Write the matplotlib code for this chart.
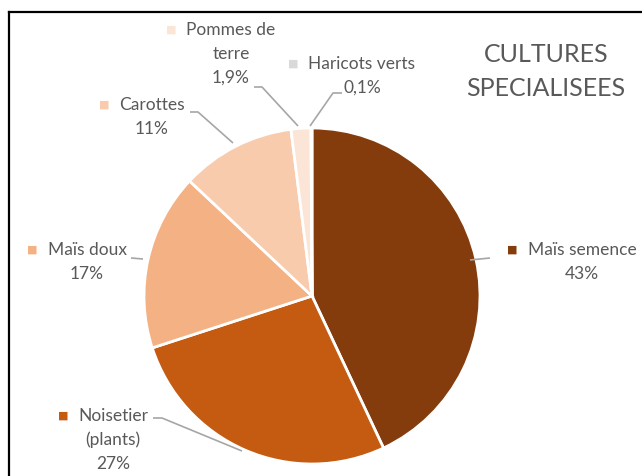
import matplotlib
matplotlib.use("Agg")
import matplotlib.pyplot as plt

# slices, clockwise from 12 o'clock
labels = ["Maïs semence", "Noisetier\n(plants)", "Maïs doux", "Carottes", "Pommes de\nterre", "Haricots verts"]
values = [43, 27, 17, 11, 1.9, 0.1]
pct_text = ["43%", "27%", "17%", "11%", "1,9%", "0,1%"]
colors = ["#843C0C", "#C55A11", "#F4B183", "#F8CBAD", "#FBE5D6", "#D9D9D9"]

title_lines = ["CULTURES", "SPECIALISEES"]

W, H = 642, 476
fig = plt.figure(figsize=(W / 100, H / 100), dpi=100)
ax = fig.add_axes([0, 0, 1, 1])

cx, cy, r = 312, 296, 168
# y axis is inverted below, so counterclock=True draws clockwise on screen
ax.pie(values, colors=colors, center=(cx, cy), radius=r, startangle=270,
       counterclock=True, frame=True,
       wedgeprops=dict(edgecolor="white", linewidth=2))
ax.set_xlim(0, W)
ax.set_ylim(H, 0)
ax.set_aspect("equal")
ax.axis("off")

txt = "#595959"
font = "Lato"
fs = 12.5

# label block placement (pixel coords, top-left origin): x of block centre, y of first line
label_pos = [(582, 250), (113, 416), (87, 250), (152, 105), (231, 30), (362, 64)]
leaders = [
    [(490, 258), (470, 260)],
    [(153, 418), (162, 418), (242, 451)],
    [(131, 258), (143, 259)],
    [(190, 112), (198, 112), (233, 143)],
    [(254, 87), (262, 87), (298, 126)],
    [(342, 93), (333, 93), (310, 126)],
]
line_h = 24

for lab, pct, col, (x, y), pts in zip(labels, pct_text, colors, label_pos, leaders):
    lines = lab.split("\n")
    first = lines[0]
    t = ax.text(x, y, first, ha="center", va="center", color=txt,
                fontsize=fs, family=font)
    fig.canvas.draw()
    bb = t.get_window_extent()
    left = bb.x0
    ax.text(left - 15, y, "■", ha="center", va="center", color=col,
            fontsize=8, family="DejaVu Sans")
    for k, extra in enumerate(lines[1:] + [pct], start=1):
        ax.text(x, y + k * line_h, extra, ha="center", va="center", color=txt,
                fontsize=fs, family=font)
    xs = [p[0] for p in pts]
    ys = [p[1] for p in pts]
    ax.plot(xs, ys, color="#A6A6A6", linewidth=1.2, solid_capstyle="butt")

for k, line in enumerate(title_lines):
    ax.text(546, 54 + k * 35, line, ha="center", va="center", color=txt,
            fontsize=18, family=font)

# chart frame (only top and left edges are visible in the crop)
ax.plot([9, 9], [H, 12], color="black", linewidth=1.6)
ax.plot([9, W], [12, 12], color="black", linewidth=1.6)

fig.savefig("out.png", dpi=100)
